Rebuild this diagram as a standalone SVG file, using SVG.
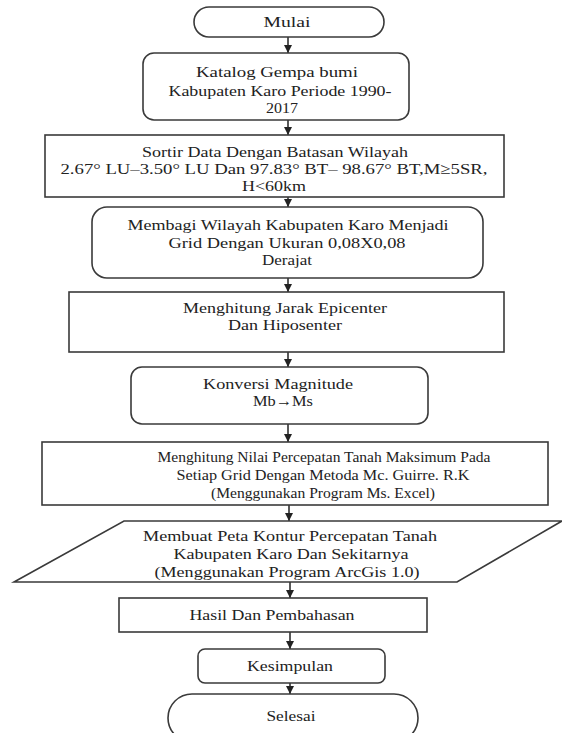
<svg xmlns="http://www.w3.org/2000/svg" width="562" height="733" viewBox="0 0 562 733">
<defs>
<style>
.box{fill:#fff;stroke:#3a3a3a;stroke-width:1.6}
.t{font-family:"Liberation Serif","Times New Roman",serif;font-size:15.5px;fill:#222;text-anchor:middle}
.c{stroke:#222;stroke-width:1.5;fill:none}
</style>
<marker id="ah" markerUnits="userSpaceOnUse" markerWidth="9" markerHeight="9" refX="8" refY="4" orient="auto">
<path d="M0,0 L8,4 L0,8 z" fill="#222"/>
</marker>
</defs>
<rect width="562" height="733" fill="#fff"/>

<g id="connectors">
<line class="c" x1="288" y1="37" x2="288" y2="53" marker-end="url(#ah)"/>
<line class="c" x1="288" y1="120" x2="288" y2="135" marker-end="url(#ah)"/>
<line class="c" x1="288" y1="197" x2="288" y2="207" marker-end="url(#ah)"/>
<line class="c" x1="288" y1="278" x2="288" y2="292" marker-end="url(#ah)"/>
<line class="c" x1="288" y1="352" x2="288" y2="367" marker-end="url(#ah)"/>
<line class="c" x1="288" y1="424" x2="288" y2="442" marker-end="url(#ah)"/>
<line class="c" x1="289" y1="505" x2="289" y2="521" marker-end="url(#ah)"/>
<line class="c" x1="290" y1="582" x2="290" y2="598" marker-end="url(#ah)"/>
<line class="c" x1="290" y1="632" x2="290" y2="649" marker-end="url(#ah)"/>
<line class="c" x1="290" y1="683" x2="290" y2="694" marker-end="url(#ah)"/>
</g>

<g id="mulai">
<rect class="box" x="194" y="7" width="190" height="30" rx="15"/>
<text class="t" x="287" y="27" textLength="47" lengthAdjust="spacingAndGlyphs">Mulai</text>
</g>

<g id="katalog">
<rect class="box" x="143" y="53" width="266" height="67" rx="11"/>
<text class="t" x="277" y="77" textLength="162" lengthAdjust="spacingAndGlyphs">Katalog Gempa bumi</text>
<text class="t" x="280" y="96" textLength="223" lengthAdjust="spacingAndGlyphs">Kabupaten Karo Periode 1990-</text>
<text class="t" x="282" y="113" textLength="32" lengthAdjust="spacingAndGlyphs">2017</text>
</g>

<g id="sortir">
<rect class="box" x="45" y="135" width="459" height="62"/>
<text class="t" x="275" y="157" textLength="266" lengthAdjust="spacingAndGlyphs">Sortir Data Dengan Batasan Wilayah</text>
<text class="t" x="274" y="174" textLength="427" lengthAdjust="spacingAndGlyphs">2.67° LU–3.50° LU Dan 97.83° BT– 98.67° BT,M≥5SR,</text>
<text class="t" x="274" y="191" textLength="64" lengthAdjust="spacingAndGlyphs">H&lt;60km</text>
</g>

<g id="membagi">
<rect class="box" x="92" y="207" width="391" height="71" rx="15"/>
<text class="t" x="288" y="230" textLength="321" lengthAdjust="spacingAndGlyphs">Membagi Wilayah Kabupaten Karo Menjadi</text>
<text class="t" x="287" y="248" textLength="237" lengthAdjust="spacingAndGlyphs">Grid Dengan Ukuran 0,08X0,08</text>
<text class="t" x="287" y="265" textLength="50" lengthAdjust="spacingAndGlyphs">Derajat</text>
</g>

<g id="jarak">
<rect class="box" x="69" y="292" width="435" height="60"/>
<text class="t" x="285" y="313" textLength="204" lengthAdjust="spacingAndGlyphs">Menghitung Jarak Epicenter</text>
<text class="t" x="285" y="330" textLength="114" lengthAdjust="spacingAndGlyphs">Dan Hiposenter</text>
</g>

<g id="konversi">
<rect class="box" x="131" y="367" width="297" height="57" rx="11"/>
<text class="t" x="278" y="389" textLength="150" lengthAdjust="spacingAndGlyphs">Konversi Magnitude</text>
<text class="t" x="283" y="406" textLength="60" lengthAdjust="spacingAndGlyphs">Mb→Ms</text>
</g>

<g id="nilai">
<rect class="box" x="42" y="442" width="506" height="63"/>
<text class="t" x="324" y="462" textLength="333" lengthAdjust="spacingAndGlyphs">Menghitung Nilai Percepatan Tanah Maksimum Pada</text>
<text class="t" x="323" y="480" textLength="293" lengthAdjust="spacingAndGlyphs">Setiap Grid Dengan Metoda Mc. Guirre. R.K</text>
<text class="t" x="323" y="498" textLength="224" lengthAdjust="spacingAndGlyphs">(Menggunakan Program Ms. Excel)</text>
</g>

<g id="peta">
<polygon class="box" points="124,521 562,521 457,582 14,582"/>
<text class="t" x="290" y="541" textLength="294" lengthAdjust="spacingAndGlyphs">Membuat Peta Kontur Percepatan Tanah</text>
<text class="t" x="291" y="559" textLength="235" lengthAdjust="spacingAndGlyphs">Kabupaten Karo Dan Sekitarnya</text>
<text class="t" x="287" y="577" textLength="265" lengthAdjust="spacingAndGlyphs">(Menggunakan Program ArcGis 1.0)</text>
</g>

<g id="hasil">
<rect class="box" x="119" y="598" width="308" height="34"/>
<text class="t" x="272" y="620" textLength="165" lengthAdjust="spacingAndGlyphs">Hasil Dan Pembahasan</text>
</g>

<g id="kesimpulan">
<rect class="box" x="198" y="649" width="187" height="34" rx="7"/>
<text class="t" x="290" y="671" textLength="86" lengthAdjust="spacingAndGlyphs">Kesimpulan</text>
</g>

<g id="selesai">
<rect class="box" x="168" y="694" width="250" height="48" rx="24"/>
<text class="t" x="291" y="721" textLength="49" lengthAdjust="spacingAndGlyphs">Selesai</text>
</g>
</svg>
